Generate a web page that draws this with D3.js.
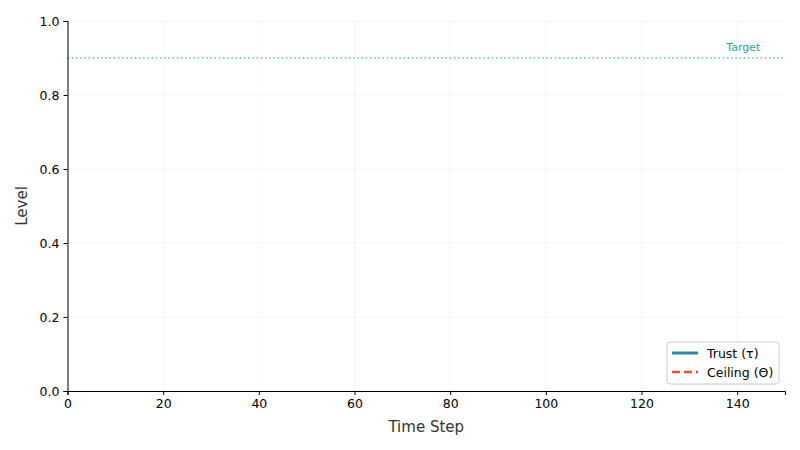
<!DOCTYPE html>
<html>
<head>
<meta charset="utf-8">
<script src="https://cdn.jsdelivr.net/npm/d3@7"></script>
<style>
  body { margin: 0; background: #fff; }
  text { font-family: "DejaVu Sans", sans-serif; }
</style>
</head>
<body>
<div id="chart"></div>
<script>
// series (no points recorded in the reference)
const timeSteps = []
const trust = []
const ceiling = []
const targetLevel = 0.9
const xTicks = [0, 20, 40, 60, 80, 100, 120, 140]
const yTicks = [0.0, 0.2, 0.4, 0.6, 0.8, 1.0]
const legendItems = [
  { name: 'Trust (τ)', color: '#2a86b0', dash: null, width: 3 },
  { name: 'Ceiling (Θ)', color: '#e74c3c', dash: '8,4', width: 2.5 },
]

const margin = { top: 21, right: 15, bottom: 59, left: 67.5 },
  width = 800 - margin.left - margin.right,
  height = 450 - margin.top - margin.bottom

const svg = d3
  .select('#chart')
  .append('svg')
  .attr('width', 800)
  .attr('height', 450)

const g = svg.append('g').attr('transform', `translate(${margin.left},${margin.top})`)

const x = d3.scaleLinear().domain([0, 150]).range([0, width])
const y = d3.scaleLinear().domain([0, 1]).range([height, 0])

// faint grid
g.selectAll('.vgrid')
  .data(xTicks)
  .join('line')
  .attr('x1', (d) => x(d))
  .attr('x2', (d) => x(d))
  .attr('y1', 0)
  .attr('y2', height)
  .attr('stroke', '#000')
  .attr('stroke-opacity', 0.04)
g.selectAll('.hgrid')
  .data(yTicks)
  .join('line')
  .attr('x1', 0)
  .attr('x2', width)
  .attr('y1', (d) => y(d))
  .attr('y2', (d) => y(d))
  .attr('stroke', '#000')
  .attr('stroke-opacity', 0.04)

// target line
g.append('line')
  .attr('x1', 0)
  .attr('x2', width)
  .attr('y1', y(targetLevel))
  .attr('y2', y(targetLevel))
  .attr('stroke', '#2aa198')
  .attr('stroke-opacity', 0.7)
  .attr('stroke-width', 1.6)
  .attr('stroke-dasharray', '1.6,2.6')
g.append('text')
  .attr('x', x(141.3))
  .attr('y', y(targetLevel) - 7)
  .attr('text-anchor', 'middle')
  .attr('font-size', 11)
  .attr('fill', '#2aa198')
  .text('Target')

// series lines
const line = d3.line().x((d, i) => x(timeSteps[i])).y((d) => y(d))
g.append('path').datum(trust).attr('d', line).attr('fill', 'none').attr('stroke', legendItems[0].color).attr('stroke-width', 2.5)
g.append('path').datum(ceiling).attr('d', line).attr('fill', 'none').attr('stroke', legendItems[1].color).attr('stroke-width', 2).attr('stroke-dasharray', '8,4')

// axes
const xAxis = g.append('g')
  .attr('transform', `translate(0,${height})`)
  .call(d3.axisBottom(x).tickValues(xTicks).tickSize(4).tickPadding(4))
const yAxis = g.append('g')
  .call(d3.axisLeft(y).tickValues(yTicks).tickFormat(d3.format('.1f')).tickSize(4).tickPadding(4))
;[xAxis, yAxis].forEach((a) => {
  a.selectAll('text').attr('font-size', 12.5).attr('fill', '#000').style('font-family', 'DejaVu Sans, sans-serif')
  a.select('.domain').attr('stroke', '#000').attr('stroke-width', 1)
  a.selectAll('.tick line').attr('stroke', '#000')
})

// axis titles
svg.append('text')
  .attr('x', margin.left + width / 2)
  .attr('y', 432)
  .attr('text-anchor', 'middle')
  .attr('font-size', 15)
  .attr('fill', '#333')
  .text('Time Step')
svg.append('text')
  .attr('transform', `translate(27,${margin.top + height / 2}) rotate(-90)`)
  .attr('text-anchor', 'middle')
  .attr('font-size', 15)
  .attr('fill', '#333')
  .text('Level')

// legend
const lg = svg.append('g').attr('transform', 'translate(667,342)')
lg.append('rect')
  .attr('width', 112)
  .attr('height', 42)
  .attr('rx', 3)
  .attr('fill', '#fff')
  .attr('fill-opacity', 0.8)
  .attr('stroke', '#ccc')
const items = lg.selectAll('.item')
  .data(legendItems)
  .join('g')
  .attr('transform', (d, i) => `translate(0,${11 + i * 19})`)
items.append('line')
  .attr('x1', 5)
  .attr('x2', 31)
  .attr('stroke', (d) => d.color)
  .attr('stroke-width', (d) => d.width)
  .attr('stroke-dasharray', (d) => d.dash)
items.append('text')
  .attr('x', 40)
  .attr('y', 4.5)
  .attr('font-size', 12.5)
  .attr('fill', '#000')
  .text((d) => d.name)
</script>
</body>
</html>
